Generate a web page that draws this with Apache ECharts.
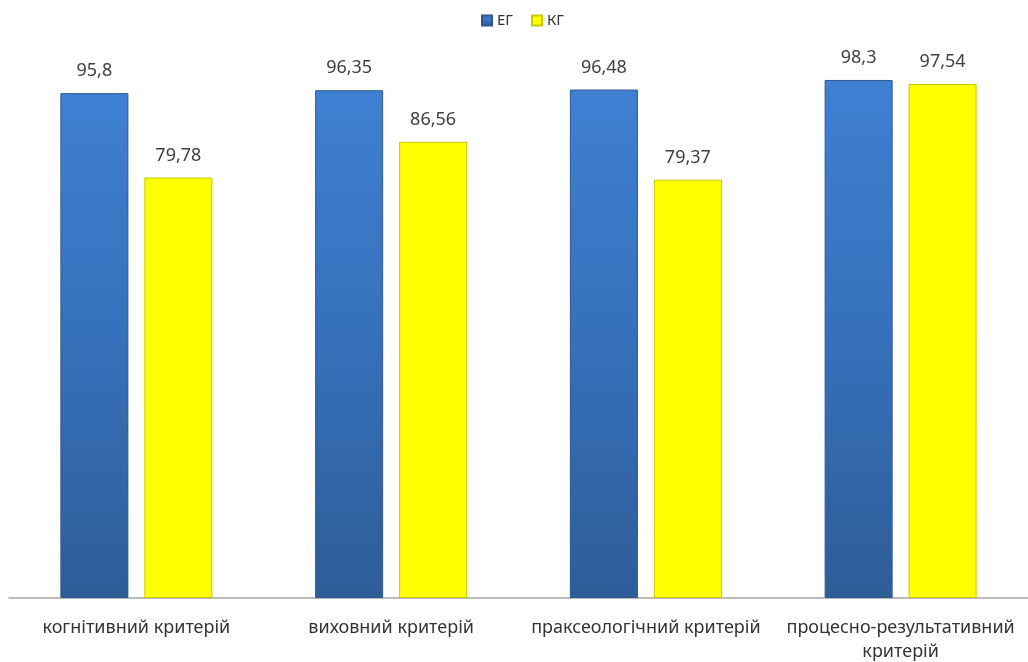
<!DOCTYPE html>
<html><head><meta charset="utf-8">
<script src="https://cdn.jsdelivr.net/npm/echarts@6/dist/echarts.min.js"></script>
<style>html,body{margin:0;padding:0;background:#fff}#c{width:1028px;height:662px}</style>
</head><body><div id="c"></div>
<script>
var categories = ['когнітивний критерій', 'виховний критерій', 'праксеологічний критерій', 'процесно-результативний\nкритерій'];
var seriesNames = ['ЕГ', 'КГ'];
var egValues = [95.8, 96.35, 96.48, 98.3];
var kgValues = [79.78, 86.56, 79.37, 97.54];

var chart = echarts.init(document.getElementById('c'));
var fmt = function (p) { return String(p.value).replace('.', ','); };
var font = '"Noto Sans", sans-serif';
chart.setOption({
  animation: false,
  legend: {
    top: 8, left: 476, itemWidth: 10, itemHeight: 10, itemGap: 18,
    icon: 'rect',
    textStyle: { fontFamily: font, fontSize: 15, color: '#333' },
    data: seriesNames
  },
  grid: { left: 9, right: 0, top: 71, bottom: 64, containLabel: false, outerBoundsMode: 'none' },
  xAxis: {
    type: 'category', data: categories,
    axisLine: { lineStyle: { color: '#a6a6a6', width: 1.5 } },
    axisTick: { show: false },
    axisLabel: { fontFamily: font, fontSize: 18, color: '#333', margin: 18, lineHeight: 24, interval: 0 }
  },
  yAxis: { type: 'value', min: 0, max: 100, show: false, splitLine: { show: false } },
  series: [
    {
      name: seriesNames[0], type: 'bar', data: egValues, barWidth: 68, barGap: '23.5%', barCategoryGap: '40%',
      itemStyle: {
        color: new echarts.graphic.LinearGradient(0, 0, 0, 1, [
          { offset: 0, color: '#3f80d2' },
          { offset: 0.5, color: '#3670ba' },
          { offset: 1, color: '#2e5d98' }
        ]),
        borderColor: '#2b578f', borderWidth: 1
      },
      label: { show: true, position: 'top', distance: 13, formatter: fmt, fontFamily: font, fontSize: 18, color: '#404040' }
    },
    {
      name: seriesNames[1], type: 'bar', data: kgValues, barWidth: 68,
      itemStyle: { color: '#ffff00', borderColor: '#c9c900', borderWidth: 1 },
      label: { show: true, position: 'top', distance: 13, formatter: fmt, fontFamily: font, fontSize: 18, color: '#404040' }
    }
  ]
});
</script></body></html>
